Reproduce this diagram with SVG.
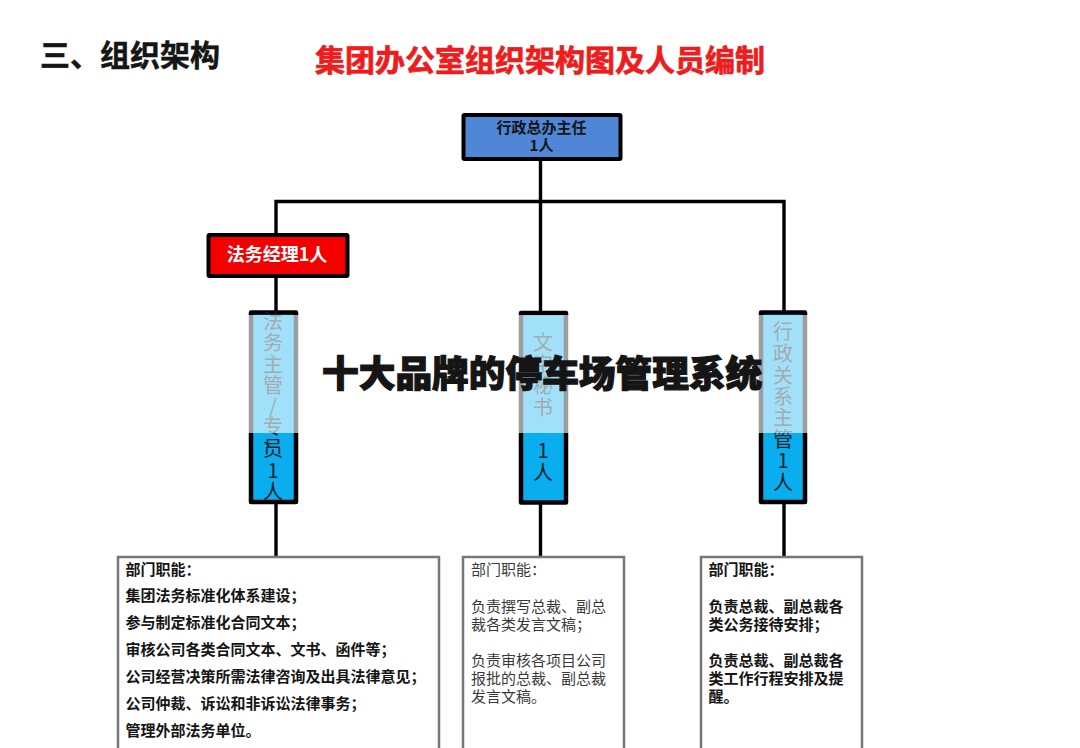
<svg xmlns="http://www.w3.org/2000/svg" width="1080" height="748" viewBox="0 0 1080 748">
<style>
text{font-family:"Noto Sans CJK SC","Liberation Sans",sans-serif;fill:#151515}
.b{font-weight:700}
.m{text-anchor:middle}
.p{font-size:20px;text-anchor:middle;fill:#10202c}
.d{font-size:15px}
.line{stroke:#000;stroke-width:3.4;fill:none}
.box{fill:#fff;stroke:#777;stroke-width:2.5}
.pil{fill:#0aaeef;stroke:#000;stroke-width:4.5;stroke-linejoin:round}
</style>
<rect width="1080" height="748" fill="#fff"/>
<text class="b" x="40" y="66" font-size="30" style="stroke:#151515;stroke-width:.5">三、组织架构</text>
<text class="b" x="315" y="71" font-size="30" style="fill:#ee1c1c;stroke:#ee1c1c;stroke-width:.7">集团办公室组织架构图及人员编制</text>
<g id="connectors">
<path class="line" d="M540.500 158V311M276 312V201.500H784V311M276 276V311M276 502V556M540.500 502V556M784 502V556"/>
</g>
<g id="n-director">
<rect x="463.500" y="115" width="157" height="44" fill="#4f86d6" stroke="#000" stroke-width="4" rx="1"/>
<text class="b m" x="541.500" y="133" font-size="15">行政总办主任</text>
<text class="b m" x="541.500" y="151" font-size="15">1人</text>
</g>
<g id="n-legal-manager">
<rect x="208.500" y="235" width="139" height="41" fill="#f50000" stroke="#000" stroke-width="4" rx="1"/>
<text class="b m" x="277" y="261" font-size="18" style="fill:#fff">法务经理1人</text>
</g>
<g id="n-legal">
<rect class="pil" x="251" y="312.500" width="45" height="189.500"/>
<text class="p" x="273" y="329">法</text><text class="p" x="273" y="350">务</text><text class="p" x="273" y="372">主</text><text class="p" x="273" y="393">管</text><text class="p" x="273" y="414">/</text><text class="p" x="273" y="434">专</text><text class="p" x="273" y="446">、</text><text class="p" x="273" y="456">员</text><text class="p" x="273" y="478">1</text><text class="p" x="273" y="499">人</text>
</g>
<g id="n-secretary">
<rect class="pil" x="521" y="313" width="45" height="189.500"/>
<text class="p" x="543" y="350">文</text><text class="p" x="543" y="372">字</text><text class="p" x="543" y="393">秘</text><text class="p" x="543" y="415">书</text><text class="p" x="543" y="458">1</text><text class="p" x="543" y="480">人</text>
</g>
<g id="n-admin">
<rect class="pil" x="761" y="312.500" width="44" height="189.500"/>
<text class="p" x="783" y="339">行</text><text class="p" x="783" y="361">政</text><text class="p" x="783" y="383">关</text><text class="p" x="783" y="404">系</text><text class="p" x="783" y="425">主</text><text class="p" x="783" y="447">管</text><text class="p" x="783" y="468">1</text><text class="p" x="783" y="490">人</text>
</g>
<g id="n-duties-legal">
<rect class="box" x="118" y="557" width="321" height="200"/>
<g class="b d">
<text x="125.500" y="575">部门职能：</text>
<text x="125.500" y="601">集团法务标准化体系建设；</text>
<text x="125.500" y="628">参与制定标准化合同文本；</text>
<text x="125.500" y="655">审核公司各类合同文本、文书、函件等；</text>
<text x="125.500" y="682">公司经营决策所需法律咨询及出具法律意见；</text>
<text x="125.500" y="709">公司仲裁、诉讼和非诉讼法律事务；</text>
<text x="125.500" y="736">管理外部法务单位。</text>
</g>
</g>
<g id="n-duties-secretary">
<rect class="box" x="463" y="557" width="161" height="200"/>
<g class="d" style="opacity:.85">
<text x="471" y="575">部门职能：</text>
<text x="471" y="612">负责撰写总裁、副总</text>
<text x="471" y="630">裁各类发言文稿；</text>
<text x="471" y="666">负责审核各项目公司</text>
<text x="471" y="684">报批的总裁、副总裁</text>
<text x="471" y="702">发言文稿。</text>
</g>
</g>
<g id="n-duties-admin">
<rect class="box" x="701" y="557" width="161" height="200"/>
<g class="b d">
<text x="708.500" y="575">部门职能：</text>
<text x="708.500" y="612">负责总裁、副总裁各</text>
<text x="708.500" y="630">类公务接待安排；</text>
<text x="708.500" y="666">负责总裁、副总裁各</text>
<text x="708.500" y="684">类工作行程安排及提</text>
<text x="708.500" y="702">醒。</text>
</g>
</g>
<rect x="0" y="315" width="1080" height="118" fill="#fff" fill-opacity=".62"/>
<text x="322" y="387" font-size="36.700" style="font-weight:900;stroke:#151515;stroke-width:1.200">十大品牌的停车场管理系统</text>
</svg>
